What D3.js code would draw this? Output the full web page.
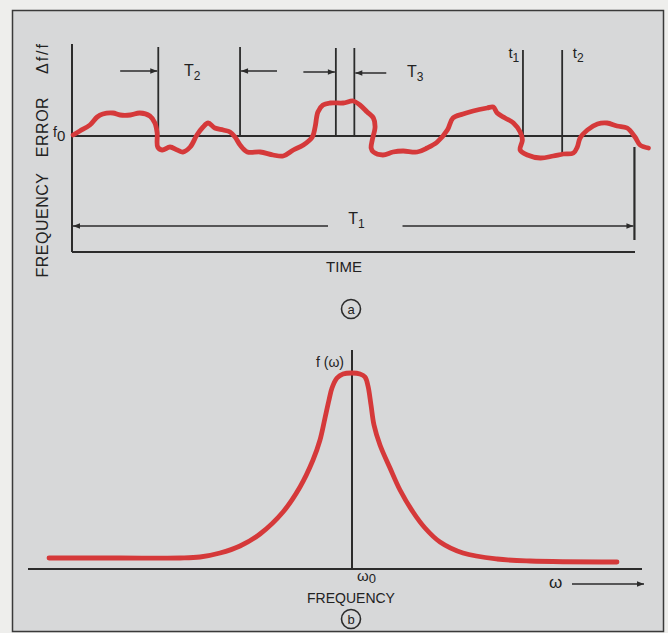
<!DOCTYPE html>
<html>
<head>
<meta charset="utf-8">
<script src="https://cdn.jsdelivr.net/npm/d3@7/dist/d3.min.js"></script>
<style>
  body { margin: 0; background: #eeeeec; }
  text { font-family: "Liberation Sans", Arial, sans-serif; fill: #222; }
</style>
</head>
<body>
<svg></svg>
<script>
const width = 668;
const height = 633;

// (a) frecuencia error vs tiempo
const timeT = [0.2, 1.4, 3.2, 4.5, 5.5, 7.3, 8.6, 10.4, 12.1, 13.9, 14.8, 15.2, 15.3, 16.1, 17.5, 18.8, 19.8, 21.1, 22.3, 23.4, 24.3, 25.5, 27.0, 28.2, 29.1, 30.0, 31.3, 33.6, 35.9, 37.7, 39.5, 41.3, 42.9, 43.4, 43.9, 44.8, 46.1, 48.4, 50.2, 51.4, 52.7, 53.8, 54.1, 53.6, 53.4, 53.8, 55.5, 57.3, 59.1, 61.6, 63.4, 65.2, 67.0, 68.0, 69.8, 71.6, 74.1, 75.2, 75.9, 77.3, 78.8, 80.0, 80.4, 80.0, 81.3, 83.6, 85.9, 87.7, 89.5, 90.2, 90.7, 92.0, 93.8, 95.5, 97.3, 99.1, 100.5, 101.4, 102.9];
const errorDf = [0.1, 0.5, 1.1, 1.9, 2.2, 2.3, 2.1, 2.1, 2.3, 2.0, 1.3, 0.3, -1.1, -1.4, -1.1, -1.4, -1.6, -1.1, 0.1, 0.9, 1.3, 0.8, 0.6, 0.4, -0.1, -0.9, -1.6, -1.6, -1.9, -2.0, -1.4, -0.9, -0.1, 0.9, 2.4, 3.1, 3.3, 3.3, 3.5, 3.1, 2.4, 1.8, 0.9, -0.4, -1.2, -1.6, -1.9, -1.6, -1.5, -1.6, -1.2, -0.6, 0.6, 1.8, 2.2, 2.5, 2.8, 2.9, 2.3, 1.8, 1.3, 0.4, -0.4, -1.4, -1.9, -2.2, -2.0, -1.8, -1.7, -1.1, -0.2, 0.6, 1.2, 1.3, 1.0, 0.8, -0.1, -0.9, -1.2];

// marcas de tiempo
const t2Marks = [15.4, 30.0];
const t3Marks = [47.1, 50.4];
const tMarks = [80.5, 87.5]; // t1, t2
const t1Span = [0, 100.4];

// (b) espectro
const omega = [-30.3, -23.2, -17.2, -15.2, -13.2, -11.2, -9.2, -6.9, -5.2, -3.9, -3.2, -2.7, -2.3, -2.0, -1.5, -0.9, 0, 0.8, 1.3, 1.6, 1.9, 2.2, 2.8, 3.8, 4.8, 6.1, 7.3, 8.8, 11.1, 14.5, 17.8, 26.5];
const spectrum = [1.1, 1.1, 1.1, 1.2, 1.6, 2.3, 3.5, 5.7, 8.2, 10.9, 12.9, 15.1, 16.9, 18.1, 19.1, 19.5, 19.6, 19.5, 19.2, 18.3, 16.4, 14.4, 12.4, 10.1, 7.9, 5.7, 4.1, 2.7, 1.6, 1.0, 0.8, 0.7];

const red = "#d5393a";
const ink = "#2b2b2b";

const svg = d3.select("svg").attr("width", width).attr("height", height);

// marco
svg.append("rect")
  .attr("x", 12.5).attr("y", 10.5)
  .attr("width", 651).attr("height", 621)
  .attr("fill", "#d7d8d9")
  .attr("stroke", "#3a3a3a")
  .attr("stroke-width", 1.5);

// flechas
const defs = svg.append("defs");
defs.append("marker")
  .attr("id", "arrow")
  .attr("viewBox", "0 0 10 10")
  .attr("refX", 10).attr("refY", 5)
  .attr("markerWidth", 8).attr("markerHeight", 7)
  .attr("markerUnits", "userSpaceOnUse")
  .attr("orient", "auto")
  .append("path")
  .attr("d", "M0,1 L10,5 L0,9 Z")
  .attr("fill", ink);

// ---------- panel (a) ----------
const x = d3.scaleLinear().domain([0, 100.5]).range([72, 635]);
const y = d3.scaleLinear().domain([-11.6, 9.2]).range([252, 44]);

const ga = svg.append("g");

function vline(g, xv, y0, y1, w) {
  g.append("line")
    .attr("x1", xv).attr("x2", xv)
    .attr("y1", y0).attr("y2", y1)
    .attr("stroke", ink).attr("stroke-width", w || 1.8);
}
function hline(g, x0, x1, yv, w, arrow) {
  const l = g.append("line")
    .attr("x1", x0).attr("x2", x1)
    .attr("y1", yv).attr("y2", yv)
    .attr("stroke", ink).attr("stroke-width", w || 1.8);
  if (arrow) l.attr("marker-end", "url(#arrow)");
}

// ejes
vline(ga, x(0), y(9.2), y(-11.6), 2);
hline(ga, x(0), x(100.5), y(-11.6), 2.2);
// linea f0
hline(ga, x(0), x(100), y(0), 2);

// marcas T2, T3, t1, t2
t2Marks.forEach((t) => vline(ga, x(t), y(8.9), y(0)));
t3Marks.forEach((t) => vline(ga, x(t), y(8.8), y(0)));
vline(ga, x(tMarks[0]), y(8.6), y(-0.1));
vline(ga, x(tMarks[1]), y(8.6), y(-1.9));
vline(ga, x(t1Span[1]), y(-1.1), y(-10.4), 2.2);

// flechas T2 y T3
hline(ga, x(8.6), x(t2Marks[0]) - 1, y(6.5), 1.5, true);
hline(ga, x(36.6), x(t2Marks[1]) + 1, y(6.5), 1.5, true);
hline(ga, x(41.3), x(t3Marks[0]) - 1, y(6.4), 1.5, true);
hline(ga, x(56.1), x(t3Marks[1]) + 1, y(6.3), 1.5, true);
// flecha T1
hline(ga, x(45.7), x(t1Span[0]) + 1, y(-9.0), 1.5, true);
hline(ga, x(59.0), x(t1Span[1]) - 1, y(-9.0), 1.5, true);

// curva roja
const errData = timeT.map((t, i) => [t, errorDf[i]]);
ga.append("path")
  .datum(errData)
  .attr("fill", "none")
  .attr("stroke", red)
  .attr("stroke-width", 4.8)
  .attr("stroke-linecap", "round")
  .attr("stroke-linejoin", "round")
  .attr("d", d3.line().x((d) => x(d[0])).y((d) => y(d[1])).curve(d3.curveCatmullRom.alpha(0.5)));

// etiquetas
function sub(g, xp, yp, main, subTxt, size, subSize, dy) {
  const t = g.append("text")
    .attr("x", xp).attr("y", yp)
    .style("font-size", size + "px");
  t.append("tspan").text(main);
  t.append("tspan").attr("dy", dy == null ? 4 : dy).style("font-size", subSize + "px").text(subTxt);
  return t;
}
sub(ga, x(20.0), y(6.5) + 5, "T", "2", 16, 12);
sub(ga, x(59.8), y(6.4) + 5, "T", "3", 16, 12);
sub(ga, x(49.3), y(-9.0) - 2, "T", "1", 16, 12);
sub(ga, x(77.9), 58, "t", "1", 15, 12);
sub(ga, x(89.4), 58, "t", "2", 15, 12);
sub(ga, 53, 137, "f", "0", 14, 15);

ga.append("text")
  .attr("x", 344).attr("y", 272)
  .style("text-anchor", "middle")
  .style("font-size", "15px")
  .text("TIME");

[["FREQUENCY", 225], ["ERROR", 127], ["Δf/f", 58]].forEach(([s, cy]) => {
  ga.append("text")
    .attr("transform", `translate(48,${cy}) rotate(-90)`)
    .style("text-anchor", "middle")
    .style("font-size", "16px")
    .style("letter-spacing", s === "Δf/f" ? "2px" : "0.5px")
    .text(s);
});

function circled(g, cx, cy, letter) {
  g.append("circle")
    .attr("cx", cx).attr("cy", cy).attr("r", 9.5)
    .attr("fill", "none").attr("stroke", ink).attr("stroke-width", 1.6);
  g.append("text")
    .attr("x", cx).attr("y", cy + 4.5)
    .style("text-anchor", "middle")
    .style("font-size", "13px")
    .text(letter);
}
circled(ga, 351, 309, "a");

// ---------- panel (b) ----------
const xw = d3.scaleLinear().domain([-32.4, 29.0]).range([28, 642]);
const yf = d3.scaleLinear().domain([0, 21.9]).range([569, 350]);

const gb = svg.append("g");
hline(gb, xw(-32.4), xw(29.0), yf(0), 2.2);
vline(gb, xw(0), yf(21.9), yf(0), 2);

const specData = omega.map((w, i) => [w, spectrum[i]]);
gb.append("path")
  .datum(specData)
  .attr("fill", "none")
  .attr("stroke", red)
  .attr("stroke-width", 4.8)
  .attr("stroke-linecap", "round")
  .attr("stroke-linejoin", "round")
  .attr("d", d3.line().x((d) => xw(d[0])).y((d) => yf(d[1])).curve(d3.curveCatmullRom.alpha(0.5)));

gb.append("text")
  .attr("x", 344).attr("y", 367)
  .style("text-anchor", "end")
  .style("font-size", "14px")
  .text("f (ω)");

sub(gb, 357, 581, "ω", "0", 15, 13, 2);
gb.append("text")
  .attr("x", 351).attr("y", 603)
  .style("text-anchor", "middle")
  .style("font-size", "14px")
  .text("FREQUENCY");

gb.append("text")
  .attr("x", 549).attr("y", 588)
  .style("font-size", "17px")
  .text("ω");
hline(gb, 572, 644, 584, 1.5, true);

circled(gb, 351, 619, "b");
</script>
</body>
</html>
